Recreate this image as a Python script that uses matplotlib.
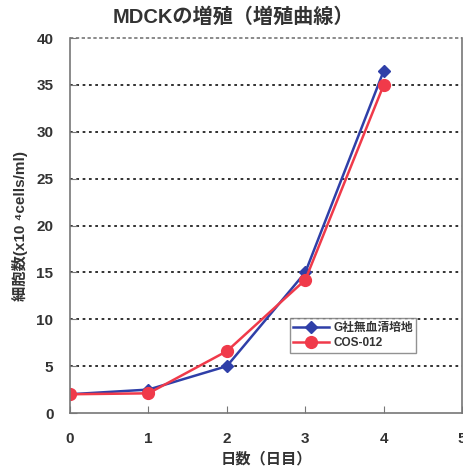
import matplotlib.pyplot as plt

plt.rcParams['font.family'] = ['Liberation Sans', 'Noto Sans CJK JP', 'DejaVu Sans']

days = [0, 1, 2, 3, 4]
g_serum_free = [2.0, 2.5, 5.0, 15.0, 36.5]
cos_012 = [2.0, 2.1, 6.6, 14.2, 35.0]
yticks = [0, 5, 10, 15, 20, 25, 30, 35, 40]
xticks = [0, 1, 2, 3, 4, 5]

fig = plt.figure(figsize=(4.64, 4.75), dpi=100)
ax = fig.add_axes([0.151, 0.1305, 0.845, 0.7895])

ax.plot(days, g_serum_free, color='#2f3fa8', marker='D', markersize=6.5, lw=1.8, label='G社無血清培地')
ax.plot(days, cos_012, color='#f03a4a', marker='o', markersize=8.5, lw=1.8, label='COS-012')

ax.set_xlim(0, 5)
ax.set_ylim(0, 40)
ax.set_xticks(xticks)
ax.set_yticks(yticks)
for y in yticks[1:-1]:
    ax.axhline(y, color='#222222', lw=1.3, ls=(0, (1.5, 2)), zorder=0)
ax.axhline(40, color='#777777', lw=1.2, ls=(0, (2, 1.5)), zorder=0, clip_on=False)

for s in ['left', 'bottom', 'right']:
    ax.spines[s].set_color('#777777')
    ax.spines[s].set_linewidth(1.2)
ax.spines['top'].set_visible(False)

ax.tick_params(axis='both', direction='in', length=5, color='#777777', labelsize=11)
ax.tick_params(axis='x', pad=14)
ax.tick_params(axis='y', pad=12)
for lab in ax.get_xticklabels() + ax.get_yticklabels():
    lab.set_fontweight('bold')
    lab.set_color('#333333')

ax.set_title('MDCKの増殖（増殖曲線）', fontsize=14.5, fontweight='bold', color='#333333',
             pad=11, x=0.416)
ax.set_xlabel('日数（日目）', fontsize=11, fontweight='bold', color='#333333', labelpad=4)
ax.set_ylabel('細胞数(x10 ⁴cells/ml)', fontsize=11, fontweight='bold', color='#333333', labelpad=6)

leg = ax.legend(loc='lower left', bbox_to_anchor=(0.545, 0.145), fontsize=8.5, frameon=True,
                fancybox=False, edgecolor='#777777', handlelength=3, borderpad=0.3,
                labelspacing=0.3, handletextpad=0.4)
leg.get_frame().set_linewidth(1.0)
for t in leg.get_texts():
    t.set_fontweight('bold')
    t.set_color('#333333')

fig.savefig('out.png', dpi=100)
